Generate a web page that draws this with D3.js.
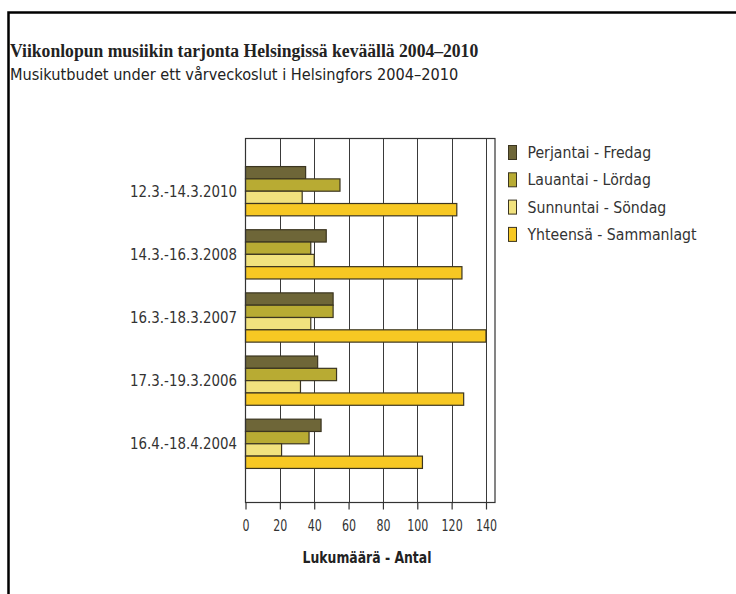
<!DOCTYPE html>
<html>
<head>
<meta charset="utf-8">
<script src="https://cdn.jsdelivr.net/npm/d3@7"></script>
<style>
  body { margin: 0; background: #fff; }
  svg text { fill: #333; }
</style>
</head>
<body>
<div id="chart"></div>
<script>
// Data
const periods = ["12.3.-14.3.2010", "14.3.-16.3.2008", "16.3.-18.3.2007", "17.3.-19.3.2006", "16.4.-18.4.2004"];
const seriesNames = ["Perjantai - Fredag", "Lauantai - Lördag", "Sunnuntai - Söndag", "Yhteensä - Sammanlagt"];
const friday = [35, 47, 51, 42, 44];
const saturday = [55, 38, 51, 53, 37];
const sunday = [33, 40, 38, 32, 21];
const total = [123, 126, 140, 127, 103];
const xTicks = [0, 20, 40, 60, 80, 100, 120, 140];

const colors = ["#6e6638", "#b8ab33", "#f1e27e", "#f7c823"];
const values = [friday, saturday, sunday, total];

const sans = "'DejaVu Sans Condensed', 'DejaVu Sans', sans-serif";

const W = 736, H = 594;
const svg = d3.select("#chart")
    .append("svg")
    .attr("width", W)
    .attr("height", H);

// Frame
svg.append("path")
    .attr("d", "M8.5,600 L8.5,12.5 L740,12.5")
    .attr("fill", "none")
    .attr("stroke", "#000")
    .attr("stroke-width", 2.5);

// Titles
svg.append("text")
    .attr("transform", "translate(10,57) scale(0.952,1)")
    .style("font-family", "'Liberation Serif', serif")
    .style("font-weight", "bold")
    .style("font-size", "18.5px")
    .style("fill", "#222")
    .text("Viikonlopun musiikin tarjonta Helsingissä keväällä 2004–2010");

svg.append("text")
    .attr("transform", "translate(10,80) scale(1.01,1)")
    .style("font-family", sans)
    .style("font-size", "16px")
    .style("fill", "#222")
    .text("Musikutbudet under ett vårveckoslut i Helsingfors 2004–2010");

// Plot area
const plot = {left: 245.5, right: 495, top: 138.5, bottom: 502.5};

const x = d3.scaleLinear()
    .domain([0, 140])
    .range([plot.left, 486]);

const y = d3.scaleBand()
    .domain(periods)
    .range([135, 500])
    .paddingInner(0.22)
    .paddingOuter(0.5);

const yInner = d3.scaleBand()
    .domain(d3.range(seriesNames.length))
    .range([0, y.bandwidth()]);

// Gridlines
svg.append("g")
    .selectAll("line")
    .data(xTicks.slice(1))
    .join("line")
    .attr("x1", d => Math.round(x(d)) + 0.5)
    .attr("x2", d => Math.round(x(d)) + 0.5)
    .attr("y1", plot.top)
    .attr("y2", plot.bottom)
    .attr("stroke", "#3a3a3a")
    .attr("stroke-width", 1);

// Bars
periods.forEach((p, i) => {
    svg.append("g")
        .selectAll("rect")
        .data(values.map((v, s) => ({s: s, v: v[i]})))
        .join("rect")
        .attr("x", x(0))
        .attr("y", d => y(p) + yInner(d.s))
        .attr("width", d => x(d.v) - x(0))
        .attr("height", yInner.bandwidth())
        .attr("fill", d => colors[d.s])
        .attr("stroke", "#3b3520")
        .attr("stroke-width", 1.2);
});

// Plot box
svg.append("rect")
    .attr("x", plot.left)
    .attr("y", plot.top)
    .attr("width", plot.right - plot.left)
    .attr("height", plot.bottom - plot.top)
    .attr("fill", "none")
    .attr("stroke", "#333")
    .attr("stroke-width", 1.2);

// X axis
const xAxis = svg.append("g")
    .attr("transform", `translate(0,${plot.bottom})`)
    .call(d3.axisBottom(x).tickValues(xTicks).tickSize(7).tickPadding(11));
xAxis.select(".domain").remove();
xAxis.selectAll(".tick line").attr("stroke", "#333").attr("stroke-width", 1.2);
xAxis.selectAll("text")
    .attr("transform", "scale(0.82,1)")
    .style("font-family", sans)
    .style("font-size", "15px")
    .style("fill", "#333");

svg.append("text")
    .attr("transform", "translate(367,563) scale(0.92,1)")
    .attr("text-anchor", "middle")
    .style("font-family", sans)
    .style("font-weight", "bold")
    .style("font-size", "15px")
    .style("fill", "#222")
    .text("Lukumäärä - Antal");

// Y labels
svg.append("g")
    .selectAll("text")
    .data(periods)
    .join("text")
    .attr("transform", d => `translate(237,${y(d) + y.bandwidth() / 2}) scale(0.93,1)`)
    .attr("dy", "0.35em")
    .attr("text-anchor", "end")
    .style("font-family", sans)
    .style("font-size", "16px")
    .style("fill", "#333")
    .text(d => d);

// Legend
const legend = svg.append("g")
    .selectAll("g")
    .data(seriesNames)
    .join("g")
    .attr("transform", (d, i) => `translate(508.5,${145.5 + i * 27.3})`);

legend.append("rect")
    .attr("width", 8)
    .attr("height", 14)
    .attr("fill", (d, i) => colors[i])
    .attr("stroke", "#3b3520")
    .attr("stroke-width", 1);

legend.append("text")
    .attr("transform", "translate(19,7) scale(0.98,1)")
    .attr("dy", "0.35em")
    .style("font-family", sans)
    .style("font-size", "16px")
    .style("fill", "#333")
    .text(d => d);
</script>
</body>
</html>
